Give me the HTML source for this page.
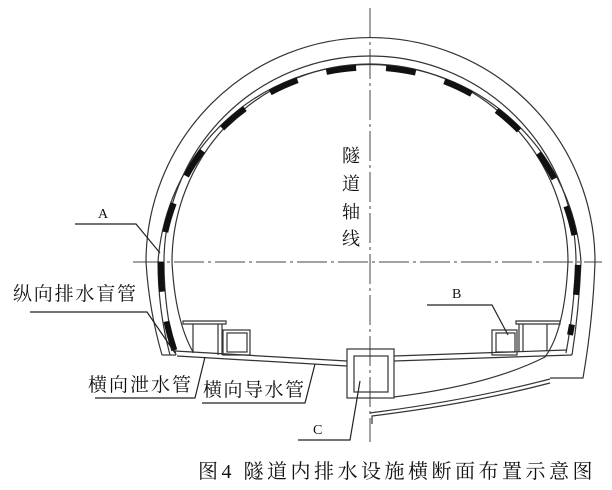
<!DOCTYPE html>
<html><head><meta charset="utf-8"><style>
html,body{margin:0;padding:0;background:#fff}
svg{display:block}
text{font-family:"Liberation Serif","Noto Serif CJK SC","Noto Sans CJK SC",serif;fill:#111}
</style></head><body>
<svg width="612" height="490" viewBox="0 0 612 490" xmlns="http://www.w3.org/2000/svg">
<g fill="none" stroke="#333" stroke-width="1.2">
<!-- axes -->
<line x1="370" y1="8" x2="370" y2="442" stroke-dasharray="30,4,3,4" stroke="#444" stroke-width="1"/>
<line x1="133" y1="262" x2="602" y2="262" stroke-dasharray="30,4,3,4" stroke="#444" stroke-width="1"/>
<!-- outer -->
<path d="M162,355 Q149,310 146,262 A224,224 0 0 1 595,262 Q593,320 583,378 L550,378"/>
<!-- second -->
<path d="M170,355 Q158,310 158,262 A212,212 0 0 1 581,262 Q579,310 572,355"/>
<!-- third -->
<path d="M176,355 Q164,310 164,262 A206,206 0 0 1 576,262 Q574,310 566,353"/>
<!-- inner -->
<path d="M193,352 Q175,320 172,262 A198,198 0 0 1 568,262 Q565,330 545,357 Q490,385 394,397"/>
<!-- bottom double line -->
<path d="M550,379 Q470,400 370,413"/>
<path d="M550,383 Q470,404 372,416 L372,424"/>
<!-- black dashes -->
<path d="M176,355 Q160,310 161,262 A209,209 0 0 1 578,262 Q577,300 570,335" stroke="#111" stroke-width="6" stroke-dasharray="30,30" stroke-dashoffset="-5"/>
<!-- road -->
<path d="M162,355 L176,355"/>
<path d="M175,351 L347,361"/>
<path d="M177,356 L347,366"/>
<path d="M394,356 L567,350"/>
<path d="M394,361 L572,355"/>
<!-- center box -->
<rect x="347" y="349" width="47" height="49"/>
<rect x="354" y="356" width="34" height="36"/>
<!-- left trough -->
<path d="M183,321 L226,321 L226,324 L183,324 Z"/>
<path d="M193,324 V353 M218,324 V355 M222,324 V355"/>
<rect x="223" y="330" width="27" height="25"/>
<rect x="227" y="333" width="20" height="19"/>
<!-- right trough -->
<path d="M516,321 L560,321 L560,324 L516,324 Z"/>
<path d="M519,324 V352 M523,324 V352 M547,324 V351"/>
<rect x="492" y="330" width="25" height="25"/>
<rect x="496" y="333" width="19" height="19"/>
<!-- leaders -->
<path d="M75,224 L136,224 L160,253" stroke="#222"/>
<path d="M30,312 L147,312 L175,353" stroke="#222"/>
<path d="M95,398 L195,398 L205,357" stroke="#222"/>
<path d="M202,403 L305,403 L315,364" stroke="#222"/>
<path d="M427,305 L492,305 L508,335" stroke="#222"/>
<path d="M298,440 L350,440 L360,381" stroke="#222"/>
</g>
<text x="98" y="218" font-size="14">A</text>
<text x="452" y="298" font-size="14">B</text>
<text x="313" y="434" font-size="14">C</text>
<text x="13" y="300" font-size="19" letter-spacing="1.8">纵向排水盲管</text>
<text x="88" y="391" font-size="19" letter-spacing="2">横向泄水管</text>
<text x="203" y="396" font-size="19" letter-spacing="1.5">横向导水管</text>
<g font-size="18">
<text x="342" y="162">隧</text>
<text x="342" y="190">道</text>
<text x="342" y="218">轴</text>
<text x="342" y="245">线</text>
</g>
<text x="198" y="478" font-size="20" letter-spacing="3.5">图4 隧道内排水设施横断面布置示意图</text>
</svg>
</body></html>
